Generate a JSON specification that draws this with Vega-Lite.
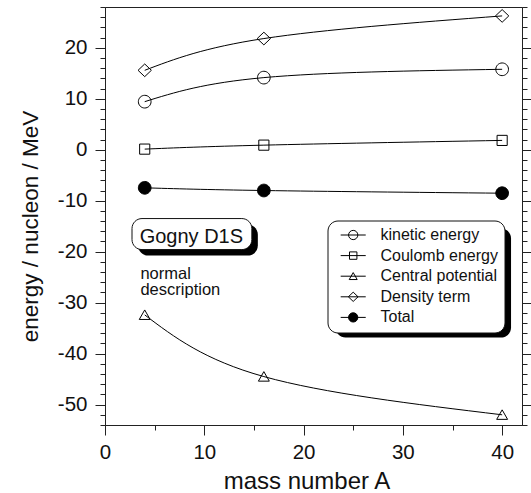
{
  "$schema": "https://vega.github.io/schema/vega-lite/v6.json",
  "width": 417,
  "height": 418,
  "autosize": "none",
  "padding": {"left": 105, "top": 7, "right": 9, "bottom": 68},
  "config": {
    "font": "Liberation Sans",
    "view": {"stroke": "#222", "strokeWidth": 1},
    "axis": {"grid": false, "domainColor": "#222", "tickColor": "#222", "labelColor": "#111", "titleColor": "#111", "labelFont": "Liberation Sans", "titleFont": "Liberation Sans", "titleFontWeight": "normal", "domainWidth": 1, "tickWidth": 1},
    "axisX": {
      "values": [0,2,4,6,8,10,12,14,16,18,20,22,24,26,28,30,32,34,36,38,40,42],
      "labelExpr": "datum.value % 10 === 0 ? '' + datum.value : ''",
      "tickSize": {"condition": {"test": "datum.value % 10 === 0", "value": 10}, "value": 5},
      "labelPadding": 7, "labelFontSize": 20.5, "labelFlush": false, "labelOverlap": false,
      "titleFontSize": 24, "titleX": 201.5, "titleY": 63.3, "titleBaseline": "alphabetic", "titleAlign": "center"
    }
  },
  "datasets": {
    "curves": [
      {"series": "kinetic energy", "series2": "kinetic energy", "series3": "kinetic energy", "A": 4, "E": 9.43},
      {"series": "kinetic energy", "series2": "kinetic energy", "series3": "kinetic energy", "A": 16, "E": 14.15},
      {"series": "kinetic energy", "series2": "kinetic energy", "series3": "kinetic energy", "A": 40, "E": 15.78},
      {"series": "Coulomb energy", "series2": "Coulomb energy", "series3": "Coulomb energy", "A": 4, "E": 0.12},
      {"series": "Coulomb energy", "series2": "Coulomb energy", "series3": "Coulomb energy", "A": 16, "E": 0.9},
      {"series": "Coulomb energy", "series2": "Coulomb energy", "series3": "Coulomb energy", "A": 40, "E": 1.83},
      {"series": "Central potential", "series2": "Central potential", "series3": "Central potential", "A": 4, "E": -32.4},
      {"series": "Central potential", "series2": "Central potential", "series3": "Central potential", "A": 16, "E": -44.5},
      {"series": "Central potential", "series2": "Central potential", "series3": "Central potential", "A": 40, "E": -52.0},
      {"series": "Density term", "series2": "Density term", "series3": "Density term", "A": 4, "E": 15.58},
      {"series": "Density term", "series2": "Density term", "series3": "Density term", "A": 16, "E": 21.81},
      {"series": "Density term", "series2": "Density term", "series3": "Density term", "A": 40, "E": 26.25},
      {"series": "Total", "series2": "Total", "series3": "Total", "A": 4, "E": -7.47},
      {"series": "Total", "series2": "Total", "series3": "Total", "A": 16, "E": -8.0},
      {"series": "Total", "series2": "Total", "series3": "Total", "A": 40, "E": -8.53}
    ],
    "box": [
      {"x1": 2.72, "x2": 14.79, "y1": -13.5, "y2": -19.59}
    ],
    "legendbox": [
      {"x1": 22.41, "x2": 40.09, "y1": -13.88, "y2": -35.27}
    ],
    "title1": [
      {"x": 8.7, "y": -18.31, "text": "Gogny D1S"}
    ],
    "title2": [
      {"x": 3.57, "y": -25.28, "text": "normal\ndescription"}
    ]
  },
  "layer": [
    {
      "data": {"name": "box"},
      "mark": {"type": "rect", "fill": "black", "cornerRadius": 10, "xOffset": 6, "x2Offset": 6, "yOffset": 6, "y2Offset": 6},
      "encoding": {
        "x": {"field": "x1", "type": "quantitative", "axis": {"title": "mass number A"}, "scale": {"domain": [0, 42], "nice": false, "zero": false}},
        "x2": {"field": "x2"},
        "y": {"field": "y1", "type": "quantitative", "axis": null, "scale": {"domain": [-54, 28], "nice": false, "zero": false}},
        "y2": {"field": "y2"}
      }
    },
    {
      "data": {"name": "legendbox"},
      "mark": {"type": "rect", "fill": "black", "cornerRadius": 10, "xOffset": 8, "x2Offset": 8, "yOffset": 8, "y2Offset": 8},
      "encoding": {
        "x": {"field": "x1", "type": "quantitative", "axis": {"title": "mass number A"}},
        "x2": {"field": "x2"},
        "y": {"field": "y1", "type": "quantitative", "axis": null},
        "y2": {"field": "y2"}
      }
    },
    {
      "data": {"name": "box"},
      "mark": {"type": "rect", "fill": "white", "stroke": "#111", "strokeWidth": 1, "cornerRadius": 10},
      "encoding": {
        "x": {"field": "x1", "type": "quantitative", "axis": {"title": "mass number A"}},
        "x2": {"field": "x2"},
        "y": {"field": "y1", "type": "quantitative", "axis": null},
        "y2": {"field": "y2"}
      }
    },
    {
      "data": {"name": "title1"},
      "mark": {"type": "text", "fontSize": 20, "align": "center", "baseline": "alphabetic", "color": "#111"},
      "encoding": {
        "x": {"field": "x", "type": "quantitative", "axis": {"title": "mass number A"}},
        "y": {"field": "y", "type": "quantitative", "axis": null},
        "text": {"field": "text"}
      }
    },
    {
      "data": {"name": "title2"},
      "mark": {"type": "text", "fontSize": 16.5, "align": "left", "baseline": "alphabetic", "lineBreak": "\n", "lineHeight": 16.5, "color": "#111"},
      "encoding": {
        "x": {"field": "x", "type": "quantitative", "axis": {"title": "mass number A"}},
        "y": {"field": "y", "type": "quantitative", "axis": null},
        "text": {"field": "text"}
      }
    },
    {
      "data": {"name": "curves"},
      "mark": {"type": "line", "interpolate": "natural", "strokeWidth": 1},
      "encoding": {
        "x": {"field": "A", "type": "quantitative", "axis": {"title": "mass number A"}},
        "y": {"field": "E", "type": "quantitative",
          "axis": {"title": "energy / nucleon / MeV", "orient": "left",
            "values": [-54,-52,-50,-48,-46,-44,-42,-40,-38,-36,-34,-32,-30,-28,-26,-24,-22,-20,-18,-16,-14,-12,-10,-8,-6,-4,-2,0,2,4,6,8,10,12,14,16,18,20,22,24,26,28],
            "labelExpr": "datum.value % 10 === 0 ? '' + datum.value : ''",
            "tickSize": {"condition": {"test": "datum.value % 10 === 0", "value": 10}, "value": 5},
            "labelPadding": 8, "labelFontSize": 20.5, "labelFlush": false, "labelOverlap": false,
            "titleFontSize": 22.5, "titleX": -68, "titleY": 219, "titleBaseline": "alphabetic", "titleAngle": -90, "titleAlign": "center"}},
        "color": {"field": "series2", "type": "nominal",
          "sort": ["kinetic energy", "Coulomb energy", "Central potential", "Density term", "Total"],
          "scale": {"range": ["black"]},
          "legend": {"orient": "none", "legendX": 222.5, "legendY": 213.5, "title": null,
            "padding": 6.5, "symbolType": "M-2.7,0L2.7,0",
            "symbolSize": 86, "symbolStrokeWidth": 1, "symbolStrokeColor": "black", "symbolFillColor": "transparent", "symbolOpacity": 1,
            "labelFontSize": 16, "labelColor": "#111",
            "labelOffset": 19.3, "rowPadding": 4.6, "symbolOffset": 11.2, "zindex": 3,
            "labelExpr": "'\u00a0'"}}
      }
    },
    {
      "data": {"name": "curves"},
      "mark": {"type": "point", "opacity": 1, "strokeWidth": 1, "size": 161},
      "encoding": {
        "x": {"field": "A", "type": "quantitative", "axis": {"title": "mass number A"}},
        "y": {"field": "E", "type": "quantitative",
          "axis": {"title": null, "orient": "right", "labels": false,
            "values": [-54,-52,-50,-48,-46,-44,-42,-40,-38,-36,-34,-32,-30,-28,-26,-24,-22,-20,-18,-16,-14,-12,-10,-8,-6,-4,-2,0,2,4,6,8,10,12,14,16,18,20,22,24,26,28],
            "tickSize": {"condition": {"test": "datum.value % 10 === 0", "value": 10}, "value": 5}}},
        "shape": {"field": "series", "type": "nominal",
          "sort": ["kinetic energy", "Coulomb energy", "Central potential", "Density term", "Total"],
          "scale": {"range": ["M-1,0A1,1,0,1,1,1,0A1,1,0,1,1,-1,0Z", "M-0.8,-0.8L0.8,-0.8L0.8,0.8L-0.8,0.8Z", "M0,-0.78L0.86,0.72L-0.86,0.72Z", "M0,-1L1.05,0L0,1L-1.05,0Z", "M-1,0A1,1,0,1,1,1,0A1,1,0,1,1,-1,0Z"]},
          "legend": {"orient": "none", "legendX": 222.5, "legendY": 213.5, "title": null,
            "fillColor": "white", "strokeColor": "#111", "cornerRadius": 10, "padding": 6.5,
            "symbolSize": 86, "symbolStrokeWidth": 1, "symbolStrokeColor": "black", "symbolFillColor": "transparent", "symbolOpacity": 1, "labelFontSize": 16, "labelColor": "#111",
            "labelOffset": 19.3, "rowPadding": 4.6, "symbolOffset": 11.2, "zindex": 2}},
        "fill": {"field": "series3", "type": "nominal",
          "sort": ["kinetic energy", "Coulomb energy", "Central potential", "Density term", "Total"],
          "scale": {"range": ["transparent", "transparent", "transparent", "transparent", "black"]},
          "legend": {"orient": "none", "legendX": 222.5, "legendY": 213.5, "title": null,
            "padding": 6.5, "symbolType": "circle",
            "symbolSize": 86, "symbolStrokeWidth": 0, "symbolStrokeColor": "transparent", "symbolFillColor": "transparent", "symbolOpacity": 1,
            "labelFontSize": 16, "labelColor": "#111",
            "labelOffset": 19.3, "rowPadding": 4.6, "symbolOffset": 11.2, "zindex": 4,
            "labelExpr": "'\u00a0'"}},
        "stroke": {"value": "black"}
      }
    }
  ],
  "resolve": {"axis": {"y": "independent"}}
}
